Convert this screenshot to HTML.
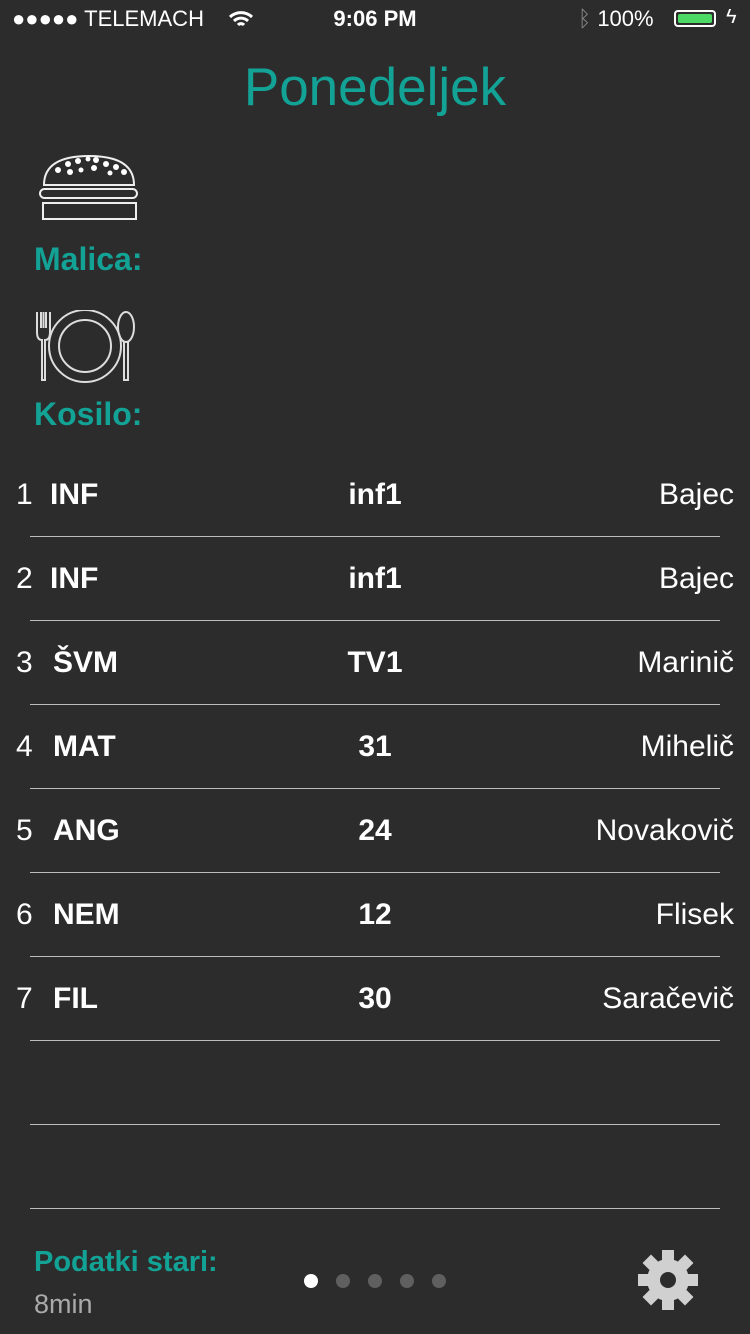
<!DOCTYPE html>
<html><head><meta charset="utf-8"><style>
body{margin:0;width:750px;height:1334px;background:#2c2c2c;font-family:"Liberation Sans",sans-serif;color:#fff;position:relative;overflow:hidden}
.a{position:absolute;white-space:nowrap}
.teal{color:#13a396}
.sep{position:absolute;left:30px;width:690px;height:1px;background:#bdbdbd}
.row{position:absolute;left:0;width:750px;height:40px;font-size:30px;line-height:40px}
.row .n{position:absolute;left:16px}
.row .s{position:absolute;left:50px;font-weight:bold}
.row .r{position:absolute;left:375px;transform:translateX(-50%);font-weight:bold}
.row .t{position:absolute;right:16px}
.dot{position:absolute;top:1274px;width:14px;height:14px;border-radius:50%;background:#5f5f5f}
</style></head><body>
<div class="a" style="left:12px;top:6px;font-size:22px">●●●●● TELEMACH</div>
<svg class="a" style="left:228px;top:10px" width="26" height="20" viewBox="0 0 26 20"><path d="M2 7a16 16 0 0 1 22 0M6 11a10 10 0 0 1 14 0M10 15a4 4 0 0 1 6 0" stroke="#fff" stroke-width="3" fill="none"/></svg>
<div class="a" style="left:0;width:750px;text-align:center;top:6px;font-size:22px;font-weight:bold">9:06 PM</div>
<div class="a" style="left:578px;top:6px;font-size:22px"><span style="color:#888">ᛒ</span> 100%</div>
<div class="a" style="left:674px;top:10px;width:42px;height:17px;border:2px solid #fff;border-radius:4px;padding:2px;box-sizing:border-box"><div style="width:100%;height:100%;background:#4cd964;border-radius:2px"></div></div>
<div class="a" style="left:726px;top:6px;font-size:20px">ϟ</div>
<div class="a teal" style="left:0;width:750px;text-align:center;top:57px;font-size:53px;font-weight:300">Ponedeljek</div>
<svg class="a" style="left:38px;top:152px" width="102" height="72" viewBox="0 0 102 72"><g stroke="#eee" stroke-width="2" fill="none"><path d="M6 33 Q6 4 51 4 Q96 4 96 33 Z"/><rect x="2" y="37" width="97" height="9" rx="4.5"/><rect x="5" y="51" width="93" height="16"/></g><g fill="#fff"><circle cx="20" cy="18" r="3"/><circle cx="30" cy="12" r="3"/><circle cx="40" cy="9" r="3"/><circle cx="50" cy="7" r="2.5"/><circle cx="58" cy="8" r="3"/><circle cx="68" cy="12" r="3"/><circle cx="78" cy="15" r="3"/><circle cx="86" cy="20" r="3"/><circle cx="32" cy="20" r="3"/><circle cx="43" cy="18" r="2.5"/><circle cx="56" cy="16" r="3"/><circle cx="72" cy="21" r="2.5"/></g></svg>
<div class="a teal" style="left:34px;top:241px;font-size:32px;font-weight:bold">Malica:</div>
<svg class="a" style="left:34px;top:310px" width="104" height="74" viewBox="0 0 104 74"><g stroke="#ddd" stroke-width="2" fill="none"><path d="M3 2v20q0 8 5 8v40h3V30q5 0 5-8V2M7 2v16M9.5 2v16M12 2v16"/><circle cx="51" cy="36" r="36"/><circle cx="51" cy="36" r="26"/><ellipse cx="92" cy="17" rx="8" ry="15"/><path d="M90 32v38h4V32"/></g></svg>
<div class="a teal" style="left:34px;top:396px;font-size:32px;font-weight:bold">Kosilo:</div>
<div id="rows"></div>
<div class="a teal" style="left:34px;top:1246px;font-size:29px;font-weight:bold">Podatki stari:</div>
<div class="a" style="left:34px;top:1289px;font-size:27px;color:#aaa">8min</div>
<div class="dot" style="left:304px;background:#fff"></div>
<div class="dot" style="left:336px"></div>
<div class="dot" style="left:368px"></div>
<div class="dot" style="left:400px"></div>
<div class="dot" style="left:432px"></div>
<svg class="a" style="left:638px;top:1250px" width="60" height="60" viewBox="-30 -30 60 60"><g fill="#d0d0d0"><circle r="21"/><g id="t"><rect x="-6" y="-30" width="12" height="12"/></g><use href="#t" transform="rotate(45)"/><use href="#t" transform="rotate(90)"/><use href="#t" transform="rotate(135)"/><use href="#t" transform="rotate(180)"/><use href="#t" transform="rotate(225)"/><use href="#t" transform="rotate(270)"/><use href="#t" transform="rotate(315)"/></g><circle r="8" fill="#2c2c2c"/></svg>
<script>
const nums=["1","2","3","4","5","6","7"];
const subjects=["INF","INF","ŠVM","MAT","ANG","NEM","FIL"];
const rooms=["inf1","inf1","TV1","31","24","12","30"];
const teachers=["Bajec","Bajec","Marinič","Mihelič","Novakovič","Flisek","Saračevič"];
const c=document.getElementById('rows');
for(let i=0;i<9;i++){
  if(i<nums.length){
    const r=document.createElement('div');r.className='row';r.style.top=(475+84*i)+'px';
    
    
    r.innerHTML='<span class="n">'+nums[i]+'</span><span class="s">'+subjects[i]+'</span><span class="r">'+rooms[i]+'</span><span class="t">'+teachers[i]+'</span>';
    if(i>=2)r.querySelector('.s').style.left='53px';
    c.appendChild(r);
  }
  const s=document.createElement('div');s.className='sep';s.style.top=(536+84*i)+'px';
  
  
  c.appendChild(s);
}
</script>
</body></html>
